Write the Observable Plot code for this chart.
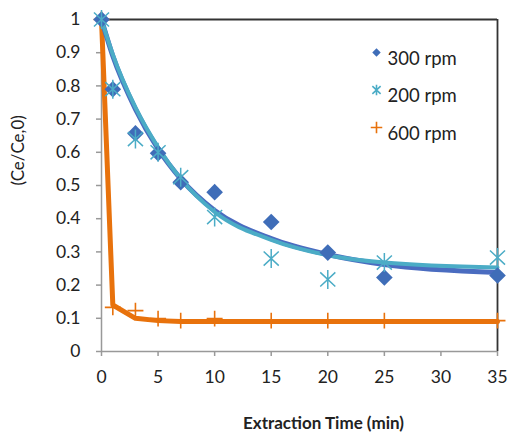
<!DOCTYPE html>
<html>
<head>
<meta charset="utf-8">
<script src="https://cdn.jsdelivr.net/npm/d3@7"></script>
<script src="https://cdn.jsdelivr.net/npm/@observablehq/plot@0.6"></script>
<style>
  html, body { margin: 0; padding: 0; background: #fff; }
  #chart { width: 512px; height: 439px; }
</style>
</head>
<body>
<div id="chart"></div>
<script>
// Measured time points (min)
const times = [0, 1, 3, 5, 7, 10, 15, 20, 25, 35];
// Observed (Ce/Ce,0)
const obs300 = [1.00, 0.79, 0.657, 0.597, 0.51, 0.48, 0.39, 0.298, 0.223, 0.229];
const obs200 = [1.00, 0.79, 0.64, 0.60, 0.525, 0.405, 0.28, 0.217, 0.268, 0.283];
const obs600 = [1.00, 0.133, 0.123, 0.099, 0.093, 0.099, 0.093, 0.093, 0.093, 0.093];
// Fitted model curves
const fit300 = [1.00, 0.89, 0.73, 0.61, 0.52, 0.425, 0.34, 0.292, 0.262, 0.238];
const fit200 = [1.00, 0.895, 0.735, 0.615, 0.52, 0.42, 0.336, 0.29, 0.268, 0.253];
const fit600 = [1.00, 0.14, 0.10, 0.093, 0.09, 0.09, 0.09, 0.09, 0.09, 0.09];
// Axis ticks
const xTicks = [0, 5, 10, 15, 20, 25, 30, 35];
const yTicks = [0, 0.1, 0.2, 0.3, 0.4, 0.5, 0.6, 0.7, 0.8, 0.9, 1];
// Series names
const seriesNames = ["300 rpm", "200 rpm", "600 rpm"];

const C300 = "#3f6db8", C300line = "#4a6cc0", C200 = "#4bacc6", C600 = "#e8720c";

const toRows = (vals) => times.map((t, i) => ({t, v: vals[i]}));

// Excel-style star marker: vertical bar plus an X
const star = {
  draw(context, size) {
    const r = Math.sqrt(size) * 0.56;
    const d = r * 0.8;
    context.moveTo(0, -r); context.lineTo(0, r);
    context.moveTo(-d, -r * 0.75); context.lineTo(d, r * 0.75);
    context.moveTo(-d, r * 0.75); context.lineTo(d, -r * 0.75);
  }
};
// thin plus marker
const cross = {
  draw(context, size) {
    const r = Math.sqrt(size) * 0.5;
    context.moveTo(0, -r); context.lineTo(0, r);
    context.moveTo(-r, 0); context.lineTo(r, 0);
  }
};

const legendStyles = [
  {symbol: "diamond2", fill: C300, stroke: "none", r: 3.8},
  {symbol: star, fill: "none", stroke: C200, r: 5.2},
  {symbol: cross, fill: "none", stroke: C600, r: 6.5}
];

const legendMarks = seriesNames.flatMap((name, i) => {
  const s = legendStyles[i];
  return [
    Plot.dot([name], {frameAnchor: "top-left", dx: 275, dy: 33 + i * 37.5,
      symbol: s.symbol, fill: s.fill, stroke: s.stroke, r: s.r, strokeWidth: 1.6}),
    Plot.text([name], {text: d => d, frameAnchor: "top-left", dx: 286, dy: 32 + i * 37.5,
      textAnchor: "start", fontSize: 18.5, fill: "#222"})
  ];
});

const chart = Plot.plot({
  width: 512,
  height: 439,
  marginLeft: 101,
  marginRight: 15,
  marginTop: 19,
  marginBottom: 88,
  style: {fontFamily: "Lato, 'Open Sans', sans-serif", fontSize: "17px", color: "#222", background: "#fff"},
  x: {domain: [0, 35]},
  y: {domain: [0, 1]},
  marks: [
    Plot.ruleY([1], {stroke: "#333", strokeWidth: 1.8}),
    Plot.ruleX([35], {stroke: "#333", strokeWidth: 1.8}),
    Plot.ruleX([0], {stroke: "#999", strokeWidth: 1.5}),
    Plot.ruleY([0], {stroke: "#999", strokeWidth: 1.5}),
    Plot.axisY({ticks: yTicks, tickSize: 5, tickPadding: 16, tickFormat: d => String(d),
      stroke: "#999", strokeWidth: 1.5, label: null, fontSize: 17.5}),
    Plot.axisX({ticks: xTicks, tickSize: 5, tickPadding: 14, tickFormat: d => String(d),
      stroke: "#999", strokeWidth: 1.5, label: null, fontSize: 17.5}),
    Plot.text(["(Ce/Ce,0)"], {text: d => d, frameAnchor: "left", dx: -83, rotate: -90, fontSize: 17, fill: "#222"}),
    Plot.text(["Extraction Time (min)"], {text: d => d, frameAnchor: "bottom", dx: 24, dy: 77, fontSize: 17, fontWeight: "bold", fill: "#222"}),
    Plot.line(toRows(fit600), {x: "t", y: "v", stroke: C600, strokeWidth: 5}),
    Plot.line(toRows(fit300), {x: "t", y: "v", stroke: C300line, strokeWidth: 5, curve: "monotone-x"}),
    Plot.line(toRows(fit200), {x: "t", y: "v", stroke: C200, strokeWidth: 4, curve: "monotone-x"}),
    Plot.dot(toRows(obs600), {x: "t", y: "v", symbol: cross, stroke: C600, r: 9, strokeWidth: 1.6}),
    Plot.dot(toRows(obs300), {x: "t", y: "v", symbol: "diamond2", fill: C300, stroke: "none", r: 7.5}),
    Plot.dot(toRows(obs200), {x: "t", y: "v", symbol: star, stroke: C200, fill: "none", r: 9.5, strokeWidth: 1.5}),
    ...legendMarks
  ]
});
document.getElementById("chart").appendChild(chart);
</script>
</body>
</html>
